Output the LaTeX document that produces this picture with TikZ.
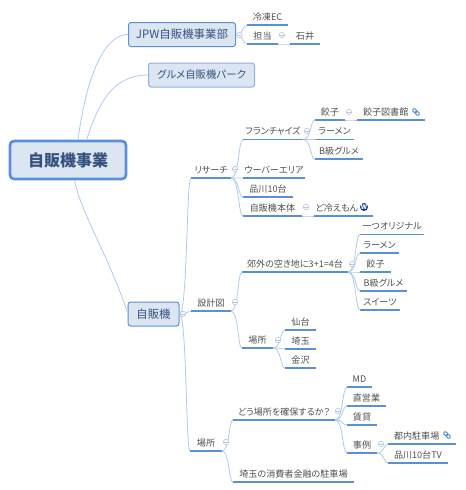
\documentclass[tikz,border=0pt]{standalone}
\usepackage{fontspec}
\setmainfont[RawFeature=+palt]{Noto Sans CJK JP}
\usetikzlibrary{calc}
\definecolor{ulblue}{HTML}{5A90D6}
\definecolor{linkblue}{HTML}{AECBEE}
\definecolor{boxfill}{HTML}{DCE6F2}
\definecolor{boxtext}{HTML}{34527F}
\definecolor{topictext}{HTML}{505050}
\definecolor{foldblue}{HTML}{B4C8E2}
\tikzset{
  x=0.75pt,y=-0.75pt,
  topic/.style={anchor=south west,inner sep=0pt,outer sep=0pt,minimum height=17*0.75pt,text height=7pt,text depth=1.2pt,font=\fontsize{6.8pt}{8pt}\selectfont,text=topictext,align=center},
  uline/.style={draw=ulblue,line width=0.85pt},
  conn/.style={draw=linkblue,line width=0.6pt},
  mainbox/.style={rectangle,rounded corners=2pt,fill=boxfill,draw=ulblue,line width=0.75pt,inner sep=0pt,text=boxtext,font=\fontsize{8.6pt}{11pt}\selectfont},
  rootbox/.style={mainbox,rounded corners=3pt,line width=2pt,font=\fontsize{12pt}{14pt}\selectfont\bfseries},
  foldmark/.style={circle,draw=foldblue,fill=white,line width=0.5pt,minimum size=5.5*0.75pt,inner sep=0pt,
    path picture={\draw[foldblue,line width=0.5pt] ([xshift=0.8pt]path picture bounding box.west)--([xshift=-0.8pt]path picture bounding box.east);}},
  linkicon/.style={draw=ulblue,line width=0.75pt,rounded corners=0.8pt},
  wpicon/.style={circle,fill=black!30!teal!60!blue,text=white,inner sep=0pt,minimum size=8*0.75pt,font=\fontsize{5pt}{5pt}\selectfont\bfseries}
}
\newcommand{\topicnode}[5]{\node[topic,minimum width={(#3-#2)*0.75pt}] (#1) at (#2,#4) {#5};\draw[uline] (#1.south west)--(#1.south east);}
\newcommand{\lnk}[2]{\draw[conn] (#1) .. controls ($(#1)!0.7!(#1-|#2)$) and ($(#2)!0.4!(#1|-#2)$) .. (#2);}
\newcommand{\foldat}[3]{\node[foldmark] (#1) at (#2,#3) {};}
\newcommand{\clipicon}[2]{\begin{scope}[shift={(#1,#2)},rotate=-45]
  \draw[linkicon] (-4,-1.5) rectangle (0.5,1.5);
  \draw[linkicon] (-0.5,-1.5) rectangle (4,1.5);
\end{scope}}
\begin{document}
\begin{tikzpicture}
\useasboundingbox (0,0) rectangle (465,490);
% topics
\topicnode{ec}{247}{288}{25}{冷凍EC}
\topicnode{tanto}{247}{278}{44}{担当}
\topicnode{ishii}{290}{320}{44}{石井}
\topicnode{fc}{243}{303}{139.5}{フランチャイズ}
\topicnode{gyoza}{315}{345}{120}{餃子}
\topicnode{lib}{357}{425}{120}{\hspace{-8pt}餃子図書館}
\topicnode{ramen}{315}{354}{139.5}{ラーメン}
\topicnode{bq}{315}{363}{159}{B級グルメ}
\topicnode{uber}{243}{305}{178}{ウーバーエリア}
\topicnode{shina}{243}{293}{197}{品川10台}
\topicnode{body}{243}{302}{216}{自販機本体}
\topicnode{dohie}{314}{373}{216}{\hspace{-10pt}ど冷えもん}
\topicnode{research}{191}{231}{178}{リサーチ}
\topicnode{one}{360}{424}{234.5}{一つオリジナル}
\topicnode{ramenb}{360}{399}{253}{ラーメン}
\topicnode{gyozab}{360}{391}{272}{餃子}
\topicnode{bqb}{360}{407}{291}{B級グルメ}
\topicnode{sweets}{360}{400}{310}{スイーツ}
\topicnode{suburb}{242}{348}{272}{郊外の空き地に3+1=4台}
\topicnode{design}{191}{231}{311}{設計図}
\topicnode{place}{242}{273}{348}{場所}
\topicnode{sendai}{285}{316}{330}{仙台}
\topicnode{saitama}{285}{316}{349}{埼玉}
\topicnode{kanazawa}{285}{316}{368}{金沢}
\topicnode{placeb}{190}{222}{451}{場所}
\topicnode{how}{233}{335}{420}{どう場所を確保するか？}
\topicnode{saicon}{233}{354}{482}{埼玉の消費者金融の駐車場}
\topicnode{md}{347}{372}{387}{MD}
\topicnode{direct}{347}{386}{406}{直営業}
\topicnode{rent}{347}{377}{425}{賃貸}
\topicnode{case}{347}{377}{453}{事例}
\topicnode{tonai}{388}{456}{444}{\hspace{-8pt}都内駐車場}
\topicnode{shinatv}{388}{448}{463}{品川10台TV}
% main boxes
\node[rootbox,minimum width=116*0.75pt,minimum height=38*0.75pt] (root) at (68,160) {自販機事業};
\node[mainbox,minimum width=107*0.75pt,minimum height=24*0.75pt] (jpw) at (182,34.5) {JPW自販機事業部};
\node[mainbox,draw=ulblue!70,minimum width=106*0.75pt,minimum height=24*0.75pt,font=\fontsize{7.8pt}{11pt}\selectfont] (gourmet) at (201.5,75) {グルメ自販機パーク};
\node[mainbox,minimum width=51*0.75pt,minimum height=24*0.75pt] (vend) at (153.5,314) {自販機};
% connectors
\draw[conn] ([xshift=7.5pt]root.north) .. controls +(8,-60) and +(-25,0) .. (jpw.west);
\draw[conn] ([xshift=14pt]root.north) .. controls +(14,-45) and +(-30,0) .. (gourmet.west);
\draw[conn] ([xshift=5pt]root.south) .. controls +(5,30) and +(-18,-55) .. ([yshift=1pt]vend.west);
\lnk{jpw.east}{ec.south west}
\lnk{jpw.east}{tanto.south west}
\lnk{tanto.south east}{ishii.south west}
\lnk{vend.east}{research.south west}
\lnk{vend.east}{design.south west}
\lnk{vend.east}{placeb.south west}
\lnk{research.south east}{fc.south west}
\lnk{research.south east}{uber.south west}
\lnk{research.south east}{shina.south west}
\lnk{research.south east}{body.south west}
\lnk{fc.south east}{gyoza.south west}
\lnk{fc.south east}{ramen.south west}
\lnk{fc.south east}{bq.south west}
\lnk{gyoza.south east}{lib.south west}
\lnk{body.south east}{dohie.south west}
\lnk{design.south east}{suburb.south west}
\lnk{design.south east}{place.south west}
\lnk{suburb.south east}{one.south west}
\lnk{suburb.south east}{ramenb.south west}
\lnk{suburb.south east}{gyozab.south west}
\lnk{suburb.south east}{bqb.south west}
\lnk{suburb.south east}{sweets.south west}
\lnk{place.south east}{sendai.south west}
\lnk{place.south east}{saitama.south west}
\lnk{place.south east}{kanazawa.south west}
\lnk{placeb.south east}{how.south west}
\lnk{placeb.south east}{saicon.south west}
\lnk{how.south east}{md.south west}
\lnk{how.south east}{direct.south west}
\lnk{how.south east}{rent.south west}
\lnk{how.south east}{case.south west}
\lnk{case.south east}{tonai.south west}
\lnk{case.south east}{shinatv.south west}
% fold marks
\foldat{f1}{239.5}{35}
\foldat{f2}{282}{35}
\foldat{f3}{349}{112}
\foldat{f4}{307}{131}
\foldat{f5}{235}{169}
\foldat{f6}{306}{207}
\foldat{f7}{352}{264}
\foldat{f8}{235}{302}
\foldat{f9}{183}{314}
\foldat{f10}{278}{340}
\foldat{f11}{338}{411}
\foldat{f12}{226}{442}
\foldat{f13}{381}{444}
% icons
\clipicon{416}{112}
\clipicon{447}{435}
\node[wpicon] (wp) at (364,207) {W};
\end{tikzpicture}
\end{document}
